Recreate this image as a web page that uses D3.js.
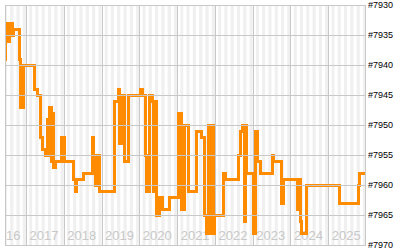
<!DOCTYPE html>
<html>
<head>
<meta charset="utf-8">
<script src="https://cdn.jsdelivr.net/npm/d3@7"></script>
<style>
  body { margin: 0; background: #fff; }
  svg { display: block; }
</style>
</head>
<body>
<div id="chart"></div>
<script>
// rank history (step changes)
const dates = [
  "2016-06-12","2016-06-20","2016-06-28","2016-07-12","2016-07-22","2016-08-20","2016-08-30",
  "2016-10-28","2016-11-05","2016-11-10","2016-12-10","2017-03-20","2017-04-20","2017-05-25",
  "2017-06-08","2017-07-08","2017-07-26","2017-08-05","2017-08-20","2017-09-01","2017-09-10",
  "2017-09-22","2017-10-12","2017-12-06","2018-01-08","2018-04-08","2018-04-24","2018-05-06",
  "2018-07-10","2018-10-02","2018-10-20","2018-11-04","2018-11-12","2018-12-10","2019-05-05",
  "2019-06-17","2019-06-27","2019-07-09","2019-08-10","2019-09-15","2020-01-15","2020-01-27",
  "2020-02-28","2020-03-10","2020-04-13","2020-05-05","2020-05-20","2020-05-28","2020-06-15",
  "2020-07-18","2020-08-10","2020-10-20","2021-01-10","2021-02-14","2021-03-15","2021-04-20",
  "2021-07-05","2021-08-20","2021-09-25","2021-10-12","2021-11-02","2021-11-20","2021-12-05",
  "2021-12-20","2021-12-28","2022-03-25","2022-04-10","2022-08-15","2022-09-05","2022-09-28",
  "2022-10-10","2022-10-22","2022-11-05","2023-01-12","2023-01-28","2023-02-20","2023-03-15",
  "2023-07-07","2023-07-24","2023-10-10","2023-10-28","2024-03-06","2024-04-01","2024-04-08",
  "2024-04-20","2024-06-05","2025-04-22","2025-10-23","2025-11-01","2025-12-21"
];
const ranks = [
  7939,7935,7933,7936,7933,7935,7934,
  7939,7940,7947,7940,7944,7945,7952,
  7954,7955,7949,7955,7947,7956,7948,
  7957,7956,7952,7956,7959,7961,7959,
  7958,7952,7955,7960,7955,7961,7946,
  7944,7953,7945,7956,7945,7944,7945,
  7955,7961,7945,7946,7961,7946,7965,
  7962,7964,7962,7948,7964,7950,7961,
  7951,7952,7965,7968,7950,7968,7950,
  7968,7965,7958,7959,7955,7951,7950,
  7966,7950,7958,7968,7951,7956,7958,
  7955,7956,7963,7959,7964,7959,7966,
  7968,7960,7963,7960,7958,7958
];
const rankTicks = [7930, 7935, 7940, 7945, 7950, 7955, 7960, 7965, 7970];
const yearTicks = [2016, 2017, 2018, 2019, 2020, 2021, 2022, 2023, 2024, 2025];

const width = 400, height = 250;
const plot = {left: 5, right: 365, top: 5, bottom: 245};
const parse = d3.timeParse("%Y-%m-%d");
const series = dates.map((d, i) => ({date: parse(d), rank: ranks[i]}));

const x = d3.scaleTime()
    .domain([parse("2016-06-12"), parse("2025-12-21")])
    .range([plot.left, plot.right]);
const y = d3.scaleLinear()
    .domain([7930, 7970])
    .range([plot.top, plot.bottom]);

const svg = d3.select("#chart").append("svg")
    .attr("width", width)
    .attr("height", height)
    .style("font-family", "'Liberation Sans', Arial, sans-serif");

svg.append("clipPath").attr("id", "plotClip")
  .append("rect")
    .attr("x", plot.left).attr("y", plot.top)
    .attr("width", plot.right - plot.left)
    .attr("height", plot.bottom - plot.top);

const inner = svg.append("g").attr("clip-path", "url(#plotClip)");

// alternating month stripes
const months = d3.timeMonth.range(d3.timeMonth.floor(x.domain()[0]), x.domain()[1]);
inner.selectAll("rect.stripe")
  .data(months.filter(m => m.getMonth() % 2 === 1))
  .join("rect")
    .attr("class", "stripe")
    .attr("x", d => x(d))
    .attr("y", plot.top)
    .attr("width", d => x(d3.timeMonth.offset(d, 1)) - x(d))
    .attr("height", plot.bottom - plot.top)
    .attr("fill", "#f0f0f0");

// grid
const gridColor = "#c8c8c8";
svg.append("g").selectAll("line")
  .data(rankTicks)
  .join("line")
    .attr("x1", plot.left).attr("x2", plot.right + 1)
    .attr("y1", d => Math.round(y(d)) + 0.5)
    .attr("y2", d => Math.round(y(d)) + 0.5)
    .attr("stroke", gridColor);

const yearDates = yearTicks.map(yr => new Date(yr, 0, 1));
inner.append("g").selectAll("line")
  .data(yearDates)
  .join("line")
    .attr("x1", d => Math.round(x(d)) + 0.5)
    .attr("x2", d => Math.round(x(d)) + 0.5)
    .attr("y1", plot.top).attr("y2", plot.bottom)
    .attr("stroke", gridColor);

svg.append("g").selectAll("line")
  .data([plot.left, plot.right])
  .join("line")
    .attr("x1", d => d + 0.5).attr("x2", d => d + 0.5)
    .attr("y1", plot.top).attr("y2", plot.bottom + 1)
    .attr("stroke", gridColor);

// year labels inside the plot
inner.append("g").selectAll("text")
  .data(yearDates)
  .join("text")
    .attr("x", d => x(d) + 3.5)
    .attr("y", 240)
    .attr("fill", "#c8c8c8")
    .style("font-size", "13px")
    .text(d => d.getFullYear());

// rank line
const line = d3.line()
    .x(d => x(d.date))
    .y(d => y(d.rank))
    .curve(d3.curveStepAfter);

inner.append("path")
    .datum(series)
    .attr("d", line)
    .attr("fill", "none")
    .attr("stroke", "#ff8c00")
    .attr("stroke-width", 3)
    .attr("shape-rendering", "crispEdges");

// rank labels on the right
svg.append("g").selectAll("text")
  .data(rankTicks)
  .join("text")
    .attr("x", 368)
    .attr("y", d => y(d))
    .attr("dy", "0.35em")
    .attr("fill", "#000")
    .style("font-size", "9px")
    .text(d => "#" + d);
</script>
</body>
</html>
